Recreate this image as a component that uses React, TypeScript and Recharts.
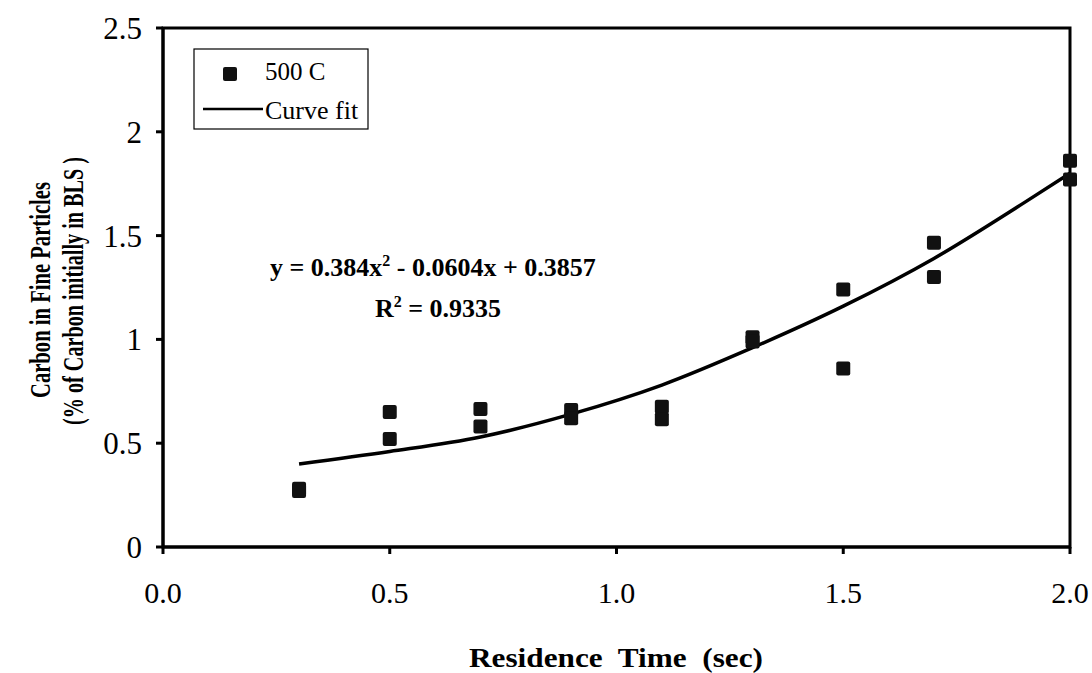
import {
  ComposedChart,
  Line,
  Scatter,
  XAxis,
  YAxis,
  ReferenceArea,
  Customized,
} from 'recharts';

const timeSec = [0.3, 0.3, 0.5, 0.5, 0.7, 0.7, 0.9, 0.9, 1.1, 1.1, 1.3, 1.3, 1.5, 1.5, 1.7, 1.7, 2.0, 2.0];
const carbonPct = [0.28, 0.27, 0.65, 0.52, 0.665, 0.58, 0.66, 0.62, 0.675, 0.615, 1.01, 0.99, 1.24, 0.86, 1.465, 1.3, 1.86, 1.77];

// curve fit line
const fitTime = [0.3, 0.5, 0.7, 0.9, 1.1, 1.3, 1.5, 1.7, 1.9, 2.0];
const fitCarbon = [0.4, 0.46, 0.53, 0.64, 0.78, 0.96, 1.16, 1.39, 1.66, 1.8];

const xTicks = [0, 0.5, 1.0, 1.5, 2.0];
const yTicks = [0, 0.5, 1, 1.5, 2, 2.5];

const points = timeSec.map((x, i) => ({ x, y: carbonPct[i] }));
const fit = fitTime.map((x, i) => ({ x, y: fitCarbon[i] }));

const FONT = 'Liberation Serif, DejaVu Serif, serif';

const Square = (props: any) => {
  const { cx, cy } = props;
  return <rect x={cx - 7} y={cy - 7} width={14} height={14} rx={2} fill="#111" />;
};

const Annotations = () => (
  <g fontFamily={FONT} fill="#000">
    {/* legend */}
    <rect x={194} y={49} width={174} height={80} fill="#fff" stroke="#000" strokeWidth={1.2} />
    <rect x={223} y={67} width={14} height={14} rx={2} fill="#111" />
    <text x={265} y={80} fontSize={25} fontFamily={FONT}>500 C</text>
    <line x1={203} y1={109} x2={263} y2={109} stroke="#000" strokeWidth={2.5} />
    <text x={265} y={119} fontSize={26} fontFamily={FONT}>Curve fit</text>

    {/* fit equation */}
    <text x={270} y={276} fontSize={26} fontWeight="bold" fontFamily={FONT}>
      y = 0.384x<tspan dy={-10} fontSize={16}>2</tspan><tspan dy={10}> - 0.0604x + 0.3857</tspan>
    </text>
    <text x={375} y={317} fontSize={26} fontWeight="bold" fontFamily={FONT}>
      R<tspan dy={-10} fontSize={16}>2</tspan><tspan dy={10}> = 0.9335</tspan>
    </text>

    {/* axis titles */}
    <text
      x={616}
      y={667}
      fontSize={27}
      fontWeight="bold"
      textAnchor="middle"
      fontFamily={FONT}
      textLength={294}
      lengthAdjust="spacingAndGlyphs"
      style={{ whiteSpace: 'pre' }}
    >
      {'Residence  Time  (sec)'}
    </text>
    <text
      x={40}
      y={290}
      fontSize={29}
      fontWeight="bold"
      textAnchor="middle"
      dominantBaseline="central"
      fontFamily={FONT}
      textLength={216}
      lengthAdjust="spacingAndGlyphs"
      transform="rotate(-90 40 290)"
    >
      Carbon in Fine Particles
    </text>
    <text
      x={73}
      y={291}
      fontSize={29}
      fontWeight="bold"
      textAnchor="middle"
      dominantBaseline="central"
      fontFamily={FONT}
      textLength={268}
      lengthAdjust="spacingAndGlyphs"
      transform="rotate(-90 73 291)"
    >
      (% of Carbon initially in BLS )
    </text>
  </g>
);

export default function App() {
  return (
    <div style={{ position: 'absolute', left: 0, top: 0, background: '#fff' }}>
      <ComposedChart width={1092} height={673} margin={{ top: 28, right: 22, left: 0, bottom: 0 }}>
        <XAxis
          type="number"
          dataKey="x"
          domain={[0, 2]}
          ticks={xTicks}
          tickFormatter={(v: number) => v.toFixed(1)}
          height={126}
          tickSize={7}
          tickMargin={28}
          stroke="#000"
          strokeWidth={3}
          tick={{ fill: '#000', fontSize: 30, fontFamily: FONT }}
        />
        <XAxis
          xAxisId="inner"
          type="number"
          domain={[0, 2]}
          ticks={xTicks}
          mirror
          tick={false}
          axisLine={false}
          tickSize={7}
          stroke="#000"
          height={0}
        />
        <YAxis
          type="number"
          dataKey="y"
          domain={[0, 2.5]}
          ticks={yTicks}
          width={163}
          tickSize={7}
          tickMargin={14}
          stroke="#000"
          strokeWidth={3}
          tick={{ fill: '#000', fontSize: 31, fontFamily: FONT }}
        />
        <YAxis
          yAxisId="inner"
          type="number"
          domain={[0, 2.5]}
          ticks={yTicks}
          mirror
          tick={false}
          axisLine={false}
          tickSize={7}
          stroke="#000"
          width={0}
        />
        <ReferenceArea x1={0} x2={2} y1={0} y2={2.5} fill="none" stroke="#000" strokeWidth={3} />
        <Line
          data={fit}
          dataKey="y"
          type="monotone"
          stroke="#000"
          strokeWidth={3.5}
          dot={false}
          isAnimationActive={false}
        />
        <Scatter data={points} dataKey="y" shape={Square} isAnimationActive={false} />
        <Customized component={Annotations} />
      </ComposedChart>
    </div>
  );
}
